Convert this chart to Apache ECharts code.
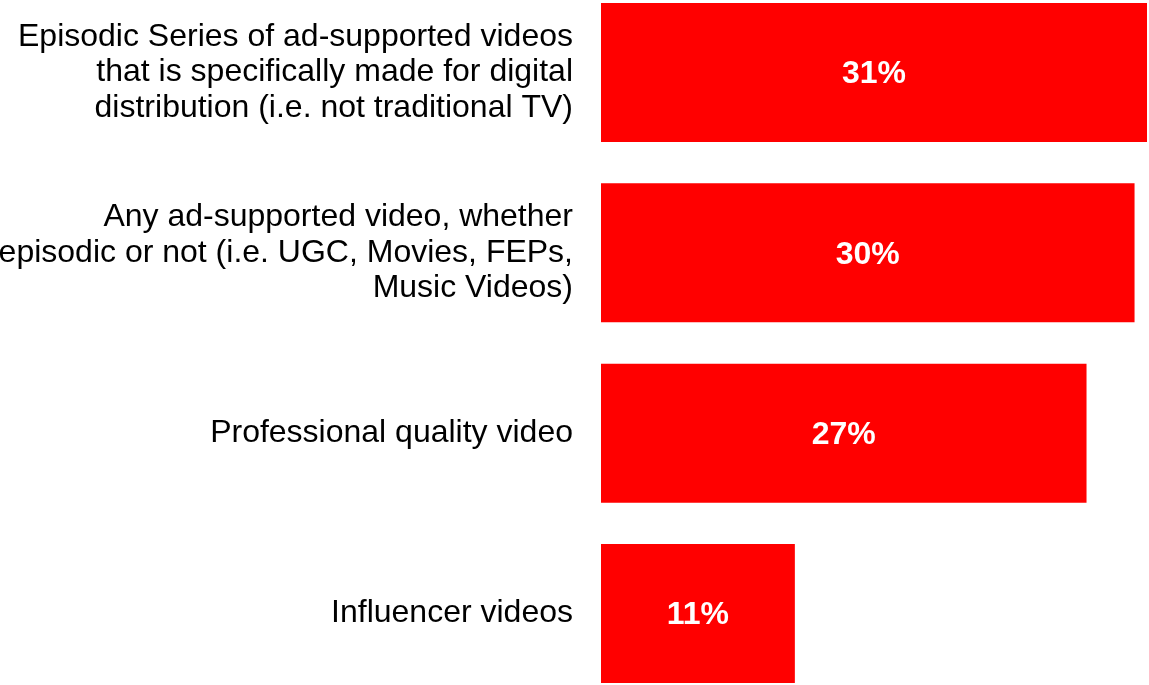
<!DOCTYPE html>
<html><head><meta charset="utf-8">
<script src="https://cdn.jsdelivr.net/npm/echarts@6/dist/echarts.min.js"></script>
<style>html,body{margin:0;padding:0;background:#fff}#c{width:1149px;height:685px}</style>
</head><body><div id="c"></div>
<script>
const categories = [
  "Episodic Series of ad-supported videos\nthat is specifically made for digital\ndistribution (i.e. not traditional TV)",
  "Any ad-supported video, whether\nepisodic or not (i.e. UGC, Movies, FEPs,\nMusic Videos)",
  "Professional quality video",
  "Influencer videos"
];
const values = [30.7, 30.0, 27.3, 10.9];

const FONT = "'Liberation Sans', Arial, sans-serif";
const chart = echarts.init(document.getElementById('c'));
chart.setOption({
  animation: false,
  grid: { left: 601, width: 546, top: 72.5, height: 541, containLabel: false, outerBoundsMode: 'none' },
  xAxis: { type: 'value', min: 0, max: 30.7, show: false },
  yAxis: {
    type: 'category', data: categories, inverse: true, boundaryGap: false,
    axisLine: { show: false }, axisTick: { show: false }, splitLine: { show: false },
    axisLabel: { margin: 28, fontFamily: FONT, fontSize: 32, color: '#000', lineHeight: 35.5, align: 'right' }
  },
  series: [{
    type: 'bar', data: values, barWidth: 139,
    itemStyle: { color: '#ff0000' },
    label: { show: true, position: 'inside', color: '#fff', fontWeight: 'bold', fontSize: 32,
      fontFamily: FONT, offset: [0, 2],
      formatter: p => Math.round(p.value) + '%' }
  }]
});
</script></body></html>
